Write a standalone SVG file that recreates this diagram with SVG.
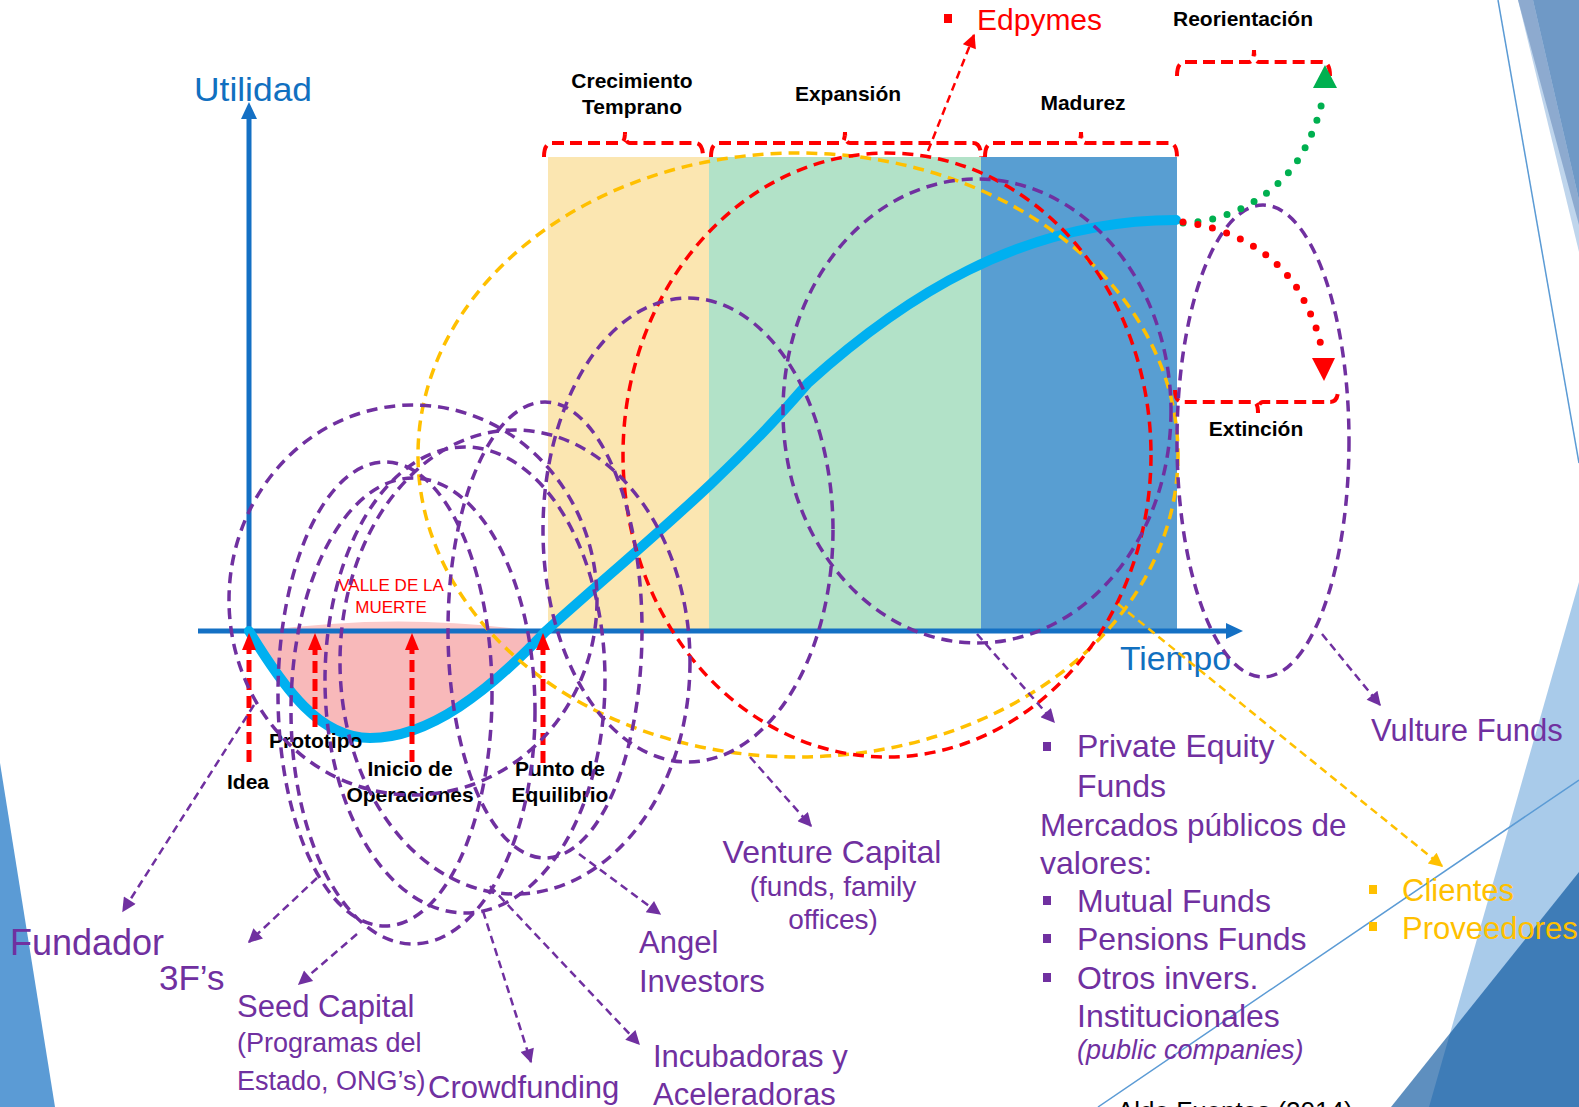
<svg xmlns="http://www.w3.org/2000/svg" width="1579" height="1107" viewBox="0 0 1579 1107">
<defs>
<style>
text{font-family:"Liberation Sans",Arial,sans-serif}
.stage{font-weight:bold;font-size:21px;fill:#000}
.pt{font-weight:bold;font-size:21px;fill:#000}
.pl{fill:#7030A0}
.yl{fill:#FFC000;font-size:31px}
.ell{fill:none;stroke:#7030A0;stroke-width:3.5;stroke-dasharray:11 7}
.ellr{fill:none;stroke:#FF0000;stroke-width:3.5;stroke-dasharray:11 7}
.elly{fill:none;stroke:#FFC000;stroke-width:3.5;stroke-dasharray:11 7}
.br{fill:none;stroke:#FF0000;stroke-width:4;stroke-dasharray:12 6}
.pa{fill:none;stroke:#7030A0;stroke-width:2.5;stroke-dasharray:8 5}
.ra{fill:none;stroke:#FF0000;stroke-width:5;stroke-dasharray:12 6}
</style>
<marker id="mp" viewBox="0 0 10 10" refX="9" refY="5" markerWidth="16" markerHeight="14" markerUnits="userSpaceOnUse" orient="auto"><path d="M0,0 L10,5 L0,10 Z" fill="#7030A0"/></marker>
<marker id="my" viewBox="0 0 10 10" refX="9" refY="5" markerWidth="16" markerHeight="14" markerUnits="userSpaceOnUse" orient="auto"><path d="M0,0 L10,5 L0,10 Z" fill="#FFC000"/></marker>
<marker id="mr" viewBox="0 0 10 10" refX="9" refY="5" markerWidth="16" markerHeight="14" markerUnits="userSpaceOnUse" orient="auto"><path d="M0,0 L10,5 L0,10 Z" fill="#FF0000"/></marker>
</defs>
<rect width="1579" height="1107" fill="#fff"/>
<g id="background">
<polygon points="0,763 55,1107 0,1107" fill="#5B9BD5"/>
<polygon points="1518,0 1579,0 1579,252" fill="#BFD5EC"/>
<polygon points="1518,0 1533,0 1579,200 1579,225" fill="#8DAACF"/>
<polygon points="1533,0 1579,0 1579,200" fill="#6F99C6"/>
<line x1="1498" y1="0" x2="1579" y2="463" stroke="#5B9BD5" stroke-width="1.5"/>
<polygon points="1579,582 1579,1107 1429,1107" fill="#A9CBEA"/>
<polygon points="1579,872 1579,1107 1391,1107" fill="rgb(0,77,153)" fill-opacity="0.63"/>
<line x1="1098" y1="1107" x2="1579" y2="780" stroke="#5B9BD5" stroke-width="1.5"/>
</g>
<g id="stages">
<rect x="548" y="157" width="161" height="474" fill="#FBE6B1"/>
<rect x="709" y="157" width="272" height="474" fill="#B2E2C8"/>
<rect x="981" y="157" width="196" height="474" fill="#589ED2"/>
<path class="br" d="M544,157 Q544,143 552,143 H620 Q625,143 625,132 Q625,143 630,143 H695 Q703,143 703,157"/>
<path class="br" d="M711,157 Q711,143 719,143 H840 Q845,143 845,132 Q845,143 850,143 H973 Q981,143 981,157"/>
<path class="br" d="M985,157 Q985,143 993,143 H1076 Q1081,143 1081,132 Q1081,143 1086,143 H1169 Q1177,143 1177,157"/>
<path class="br" d="M1177,76 Q1177,62 1185,62 H1249 Q1254,62 1254,50 Q1254,62 1259,62 H1322 Q1330,62 1330,76"/>
<path class="br" d="M1175,390 Q1175,402 1183,402 H1253 Q1258,402 1258,413 Q1258,402 1263,402 H1330 Q1338,402 1338,390"/>
<text class="stage" x="632" y="88" text-anchor="middle">Crecimiento</text>
<text class="stage" x="632" y="114" text-anchor="middle">Temprano</text>
<text class="stage" x="848" y="101" text-anchor="middle">Expansión</text>
<text class="stage" x="1083" y="110" text-anchor="middle">Madurez</text>
<text class="stage" x="1243" y="26" text-anchor="middle">Reorientación</text>
<text class="stage" x="1256" y="436" text-anchor="middle">Extinción</text>
</g>
<g id="valle">
<path d="M262,631 Q400,612 532,631 Z" fill="#FBCACA"/>
<path d="M252,633 C288,690 322,738 370,738 C430,740 490,690 545,633 Z" fill="#F8B9BA"/>
<text x="391" y="591" text-anchor="middle" font-size="17" fill="#FF0000">VALLE DE LA</text>
<text x="391" y="613" text-anchor="middle" font-size="17" fill="#FF0000">MUERTE</text>
</g>
<g id="axes">
<line x1="249" y1="631" x2="249" y2="115" stroke="#1470C4" stroke-width="5"/>
<polygon points="241,119 257,119 249,102" fill="#1470C4"/>
<line x1="198" y1="631" x2="1228" y2="631" stroke="#1470C4" stroke-width="5"/>
<polygon points="1226,623 1226,639 1243,631" fill="#1470C4"/>
<text x="194" y="101" font-size="33" fill="#1170C0" textLength="118" lengthAdjust="spacingAndGlyphs">Utilidad</text>
<text x="1120" y="670" font-size="33" fill="#1170C0" textLength="111" lengthAdjust="spacingAndGlyphs">Tiempo</text>
</g>
<g id="curve">
<path d="M249,631 C285,690 320,738 370,738 C430,738 490,690 545,632 C630,555 725,480 808,383 C900,300 1020,220 1176,220" fill="none" stroke="#00B0F0" stroke-width="10" stroke-linecap="round"/>
</g>
<g id="milestones">
<line class="ra" x1="249" y1="762" x2="249" y2="648"/>
<polygon points="242,650 256,650 249,633" fill="#FF0000"/>
<line class="ra" x1="315" y1="727" x2="315" y2="648"/>
<polygon points="308,650 322,650 315,633" fill="#FF0000"/>
<line class="ra" x1="412" y1="762" x2="412" y2="648"/>
<polygon points="405,650 419,650 412,633" fill="#FF0000"/>
<line class="ra" x1="543" y1="763" x2="543" y2="648"/>
<polygon points="536,650 550,650 543,633" fill="#FF0000"/>
<text class="pt" x="227" y="789">Idea</text>
<text class="pt" x="269" y="748">Prototipo</text>
<text class="pt" x="410" y="776" text-anchor="middle">Inicio de</text>
<text class="pt" x="410" y="802" text-anchor="middle">Operaciones</text>
<text class="pt" x="560" y="776" text-anchor="middle">Punto de</text>
<text class="pt" x="560" y="802" text-anchor="middle">Equilibrio</text>
</g>
<g id="ellipse-clientes"><ellipse class="elly" cx="798" cy="455" rx="380" ry="302"/></g>
<g id="ellipse-edpymes"><ellipse class="ellr" cx="887" cy="455" rx="264" ry="302"/></g>
<g id="ellipse-private-equity"><ellipse class="ell" cx="977" cy="411" rx="194" ry="232"/></g>
<g id="ellipse-vulture"><ellipse class="ell" cx="1263" cy="441" rx="86" ry="236"/></g>
<g id="ellipse-venture"><ellipse class="ell" cx="688" cy="530" rx="145" ry="232"/></g>
<g id="ellipse-fundador"><ellipse class="ell" cx="413" cy="600" rx="184" ry="195"/></g>
<g id="ellipse-3fs"><ellipse class="ell" cx="385" cy="694" rx="107" ry="232"/></g>
<g id="ellipse-seed"><ellipse class="ell" cx="413" cy="711" rx="122" ry="233"/></g>
<g id="ellipse-crowdfunding"><ellipse class="ell" cx="465" cy="680" rx="140" ry="233"/></g>
<g id="ellipse-incubadoras"><ellipse class="ell" cx="515" cy="662" rx="175" ry="232"/></g>
<g id="ellipse-angel"><ellipse class="ell" cx="545" cy="630" rx="97" ry="228"/></g>
<g id="transitions">
<path d="M1183,223 C1230,222 1275,195 1298,160 C1312,138 1320,115 1324,92" fill="none" stroke="#00B050" stroke-width="7" stroke-linecap="round" stroke-dasharray="0 15"/>
<polygon points="1313,88 1337,88 1325,65" fill="#00B050"/>
<path d="M1183,222 C1230,228 1270,250 1295,285 C1310,308 1320,335 1322,352" fill="none" stroke="#FF0000" stroke-width="7" stroke-linecap="round" stroke-dasharray="0 15"/>
<polygon points="1312,358 1335,358 1324,381" fill="#FF0000"/>
</g>
<g id="connectors">
<line class="pa" x1="254" y1="705" x2="123" y2="911" marker-end="url(#mp)"/>
<line class="pa" x1="317" y1="878" x2="249" y2="942" marker-end="url(#mp)"/>
<line class="pa" x1="357" y1="934" x2="299" y2="984" marker-end="url(#mp)"/>
<line class="pa" x1="483" y1="911" x2="531" y2="1062" marker-end="url(#mp)"/>
<line class="pa" x1="490" y1="886" x2="639" y2="1044" marker-end="url(#mp)"/>
<line class="pa" x1="579" y1="854" x2="660" y2="914" marker-end="url(#mp)"/>
<line class="pa" x1="750" y1="757" x2="811" y2="826" marker-end="url(#mp)"/>
<line class="pa" x1="977" y1="634" x2="1054" y2="722" marker-end="url(#mp)"/>
<line class="pa" x1="1322" y1="634" x2="1380" y2="705" marker-end="url(#mp)"/>
<line x1="1118" y1="604" x2="1442" y2="866" fill="none" stroke="#FFC000" stroke-width="2.5" stroke-dasharray="8 5" marker-end="url(#my)"/>
<line x1="928" y1="151" x2="974" y2="35" fill="none" stroke="#FF0000" stroke-width="2.5" stroke-dasharray="8 5" marker-end="url(#mr)"/>
</g>
<g id="label-edpymes">
<rect x="944" y="14" width="8" height="9" fill="#FF0000"/>
<text x="977" y="30" font-size="30" fill="#FF0000">Edpymes</text>
</g>
<g id="label-fundador"><text class="pl" x="10" y="955" font-size="36">Fundador</text></g>
<g id="label-3fs"><text class="pl" x="159" y="990" font-size="35">3F’s</text></g>
<g id="label-seed">
<text class="pl" x="237" y="1017" font-size="31">Seed Capital</text>
<text class="pl" x="237" y="1052" font-size="27">(Programas del</text>
<text class="pl" x="237" y="1090" font-size="27">Estado, ONG’s)</text>
</g>
<g id="label-crowdfunding"><text class="pl" x="428" y="1098" font-size="31">Crowdfunding</text></g>
<g id="label-angel">
<text class="pl" x="639" y="953" font-size="31">Angel</text>
<text class="pl" x="639" y="992" font-size="31">Investors</text>
</g>
<g id="label-incubadoras">
<text class="pl" x="653" y="1067" font-size="31">Incubadoras y</text>
<text class="pl" x="653" y="1105" font-size="31">Aceleradoras</text>
</g>
<g id="label-venture">
<text class="pl" x="832" y="863" text-anchor="middle" font-size="32">Venture Capital</text>
<text class="pl" x="833" y="896" text-anchor="middle" font-size="28">(funds, family</text>
<text class="pl" x="833" y="929" text-anchor="middle" font-size="28">offices)</text>
</g>
<g id="label-private-equity">
<rect x="1043" y="742" width="8" height="9" fill="#7030A0"/>
<text class="pl" x="1077" y="757" font-size="32">Private Equity</text>
<text class="pl" x="1077" y="797" font-size="32">Funds</text>
<text class="pl" x="1040" y="836" font-size="31.5">Mercados públicos de</text>
<text class="pl" x="1040" y="874" font-size="32">valores:</text>
<rect x="1043" y="896" width="8" height="9" fill="#7030A0"/>
<text class="pl" x="1077" y="912" font-size="32">Mutual Funds</text>
<rect x="1043" y="934" width="8" height="9" fill="#7030A0"/>
<text class="pl" x="1077" y="950" font-size="32">Pensions Funds</text>
<rect x="1043" y="973" width="8" height="9" fill="#7030A0"/>
<text class="pl" x="1077" y="989" font-size="32">Otros invers.</text>
<text class="pl" x="1077" y="1027" font-size="32">Institucionales</text>
<text class="pl" x="1077" y="1059" font-size="27" font-style="italic">(public companies)</text>
</g>
<g id="label-vulture"><text class="pl" x="1371" y="741" font-size="31">Vulture Funds</text></g>
<g id="label-clientes">
<rect x="1369" y="885" width="8" height="9" fill="#FFC000"/>
<text class="yl" x="1402" y="901">Clientes</text>
<rect x="1369" y="922" width="8" height="9" fill="#FFC000"/>
<text class="yl" x="1402" y="939">Proveedores</text>
</g>
<text x="1117" y="1120" font-size="26" fill="#000">Aldo Fuentes (2014)</text>
</svg>
